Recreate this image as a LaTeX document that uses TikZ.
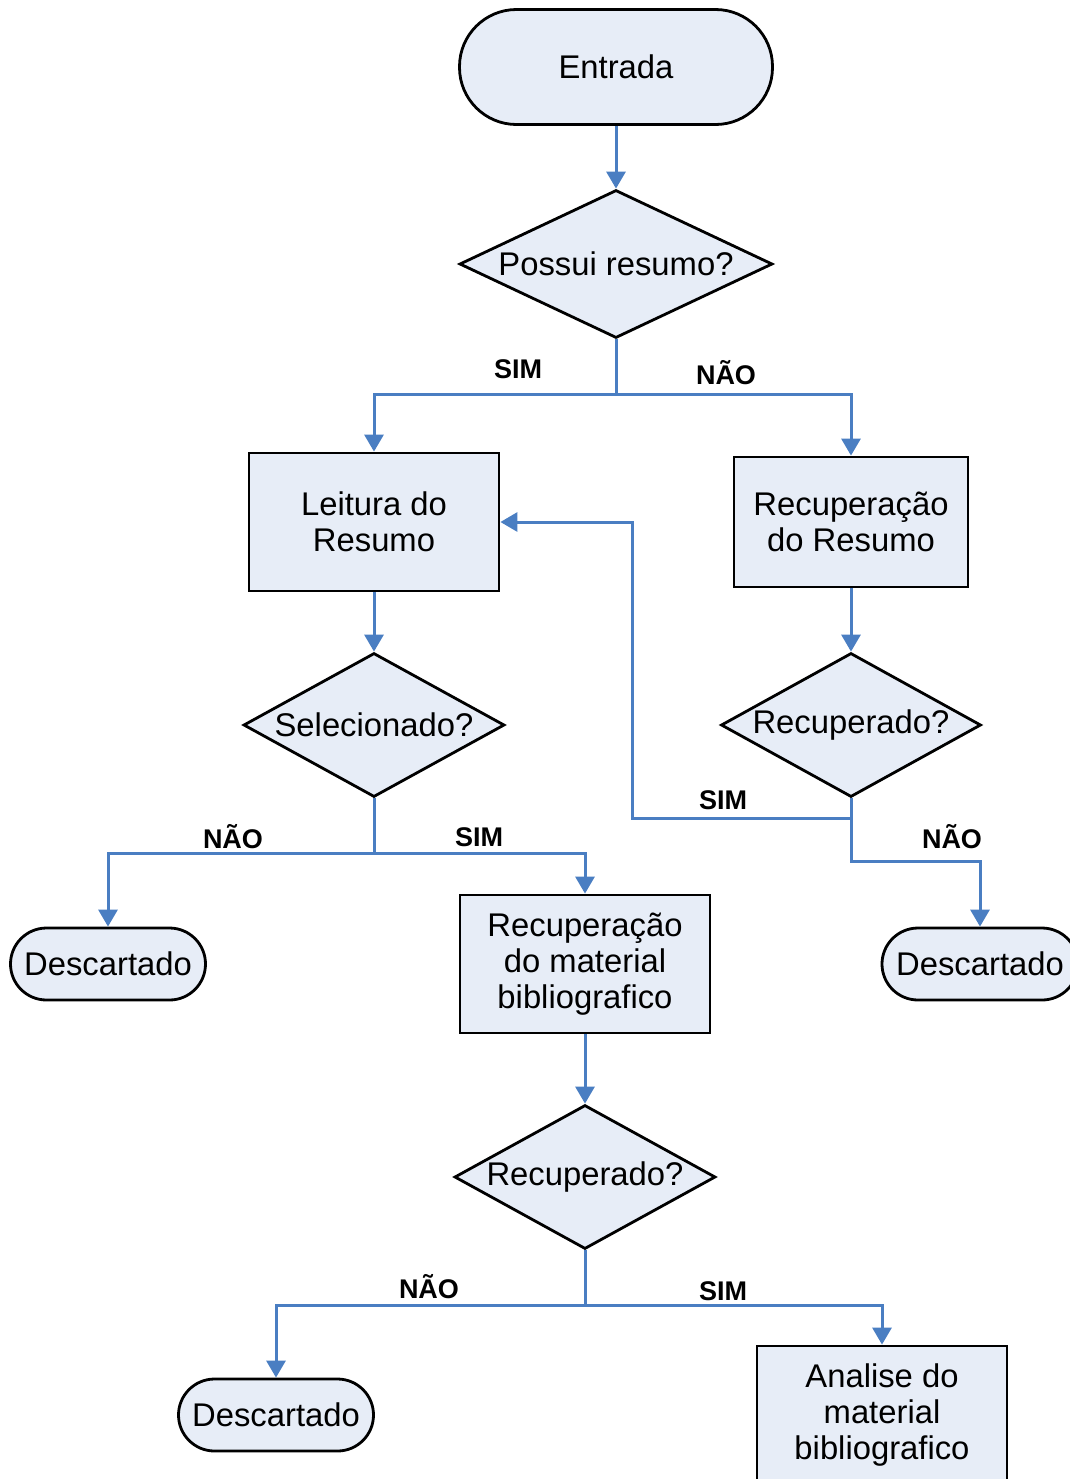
\documentclass[tikz,border=0pt]{standalone}
\usepackage{fontspec}
\setmainfont{Liberation Sans}
\usetikzlibrary{shapes.geometric,arrows.meta}
\definecolor{fillblue}{HTML}{E7EDF7}
\definecolor{lineblue}{HTML}{4A7EC2}
\tikzset{
  every node/.style={font=\fontsize{16.4pt}{18pt}\selectfont, align=center, inner sep=0pt},
  base/.style={draw=black, line width=1.4pt, fill=fillblue},
  term/.style={base, rectangle, rounded corners=#1},
  proc/.style={base, rectangle},
  dec/.style={base, diamond, aspect=#1},
  conn/.style={draw=lineblue, line width=1.5pt, -{Triangle[length=8.5pt,width=9.5pt]}},
  lbl/.style={font=\fontsize{13.5pt}{15pt}\selectfont\bfseries}
}
\begin{document}
\begin{tikzpicture}[x=0.5pt,y=-0.5pt]
\useasboundingbox (0,0) rectangle (1070,1479);
\clip (0,0) rectangle (1070,1479);
% nodes
\node[term=28.5pt, minimum width=156.5pt, minimum height=57.5pt] (en) at (616,67) {Entrada};
\node[dec=2.115, minimum width=156.5pt, minimum height=74pt] (pr) at (616,264) {Possui resumo?};
\node[proc, minimum width=125pt, minimum height=69pt] (lr) at (374,522) {Leitura do\\Resumo};
\node[proc, minimum width=117pt, minimum height=65pt] (rr) at (851,522) {Recupera\c{c}\~ao\\do Resumo};
\node[dec=1.81, minimum width=130.5pt, minimum height=72pt] (se) at (374,725) {Selecionado?};
\node[dec=1.81, minimum width=130pt, minimum height=72pt] (rd) at (851,725) {Recuperado?};
\node[term=18pt, minimum width=97.5pt, minimum height=36pt] (d1) at (108,964) {Descartado};
\node[term=18pt, minimum width=98pt, minimum height=36pt] (d2) at (980,964) {Descartado};
\node[proc, minimum width=125pt, minimum height=69pt] (rm) at (585,964) {Recupera\c{c}\~ao\\do material\\bibliografico};
\node[dec=1.81, minimum width=130.5pt, minimum height=72pt] (rd2) at (585,1177) {Recuperado?};
\node[term=18pt, minimum width=97.5pt, minimum height=36pt] (d3) at (276,1415) {Descartado};
\node[proc, minimum width=125pt, minimum height=69pt] (am) at (882,1415) {Analise do\\material\\bibliografico};
\coordinate (fb) at (632,818);
% connectors
\draw[conn] (en.south) -- (pr.north);
\draw[conn] (pr.south) -- ++(0,55) -| (lr.north);
\draw[conn] (pr.south) -- ++(0,55) -| (rr.north);
\draw[conn] (lr.south) -- (se.north);
\draw[conn] (rr.south) -- (rd.north);
\draw[conn] (rd.south) |- (fb) |- (lr.east);
\draw[conn] (rd.south) -- ++(0,63) -| (d2.north);
\draw[conn] (se.south) -- ++(0,55) -| (d1.north);
\draw[conn] (se.south) -- ++(0,55) -| (rm.north);
\draw[conn] (rm.south) -- (rd2.north);
\draw[conn] (rd2.south) -- ++(0,55) -| (d3.north);
\draw[conn] (rd2.south) -- ++(0,55) -| (am.north);
% labels
\node[lbl] (l1) at (518,369) {SIM};
\node[lbl] (l2) at (726,373) {N\~AO};
\node[lbl] (l3) at (723,800) {SIM};
\node[lbl] (l4) at (952,837) {N\~AO};
\node[lbl] (l5) at (233,837) {N\~AO};
\node[lbl] (l6) at (479,837) {SIM};
\node[lbl] (l7) at (429,1287) {N\~AO};
\node[lbl] (l8) at (723,1291) {SIM};
\end{tikzpicture}
\end{document}
